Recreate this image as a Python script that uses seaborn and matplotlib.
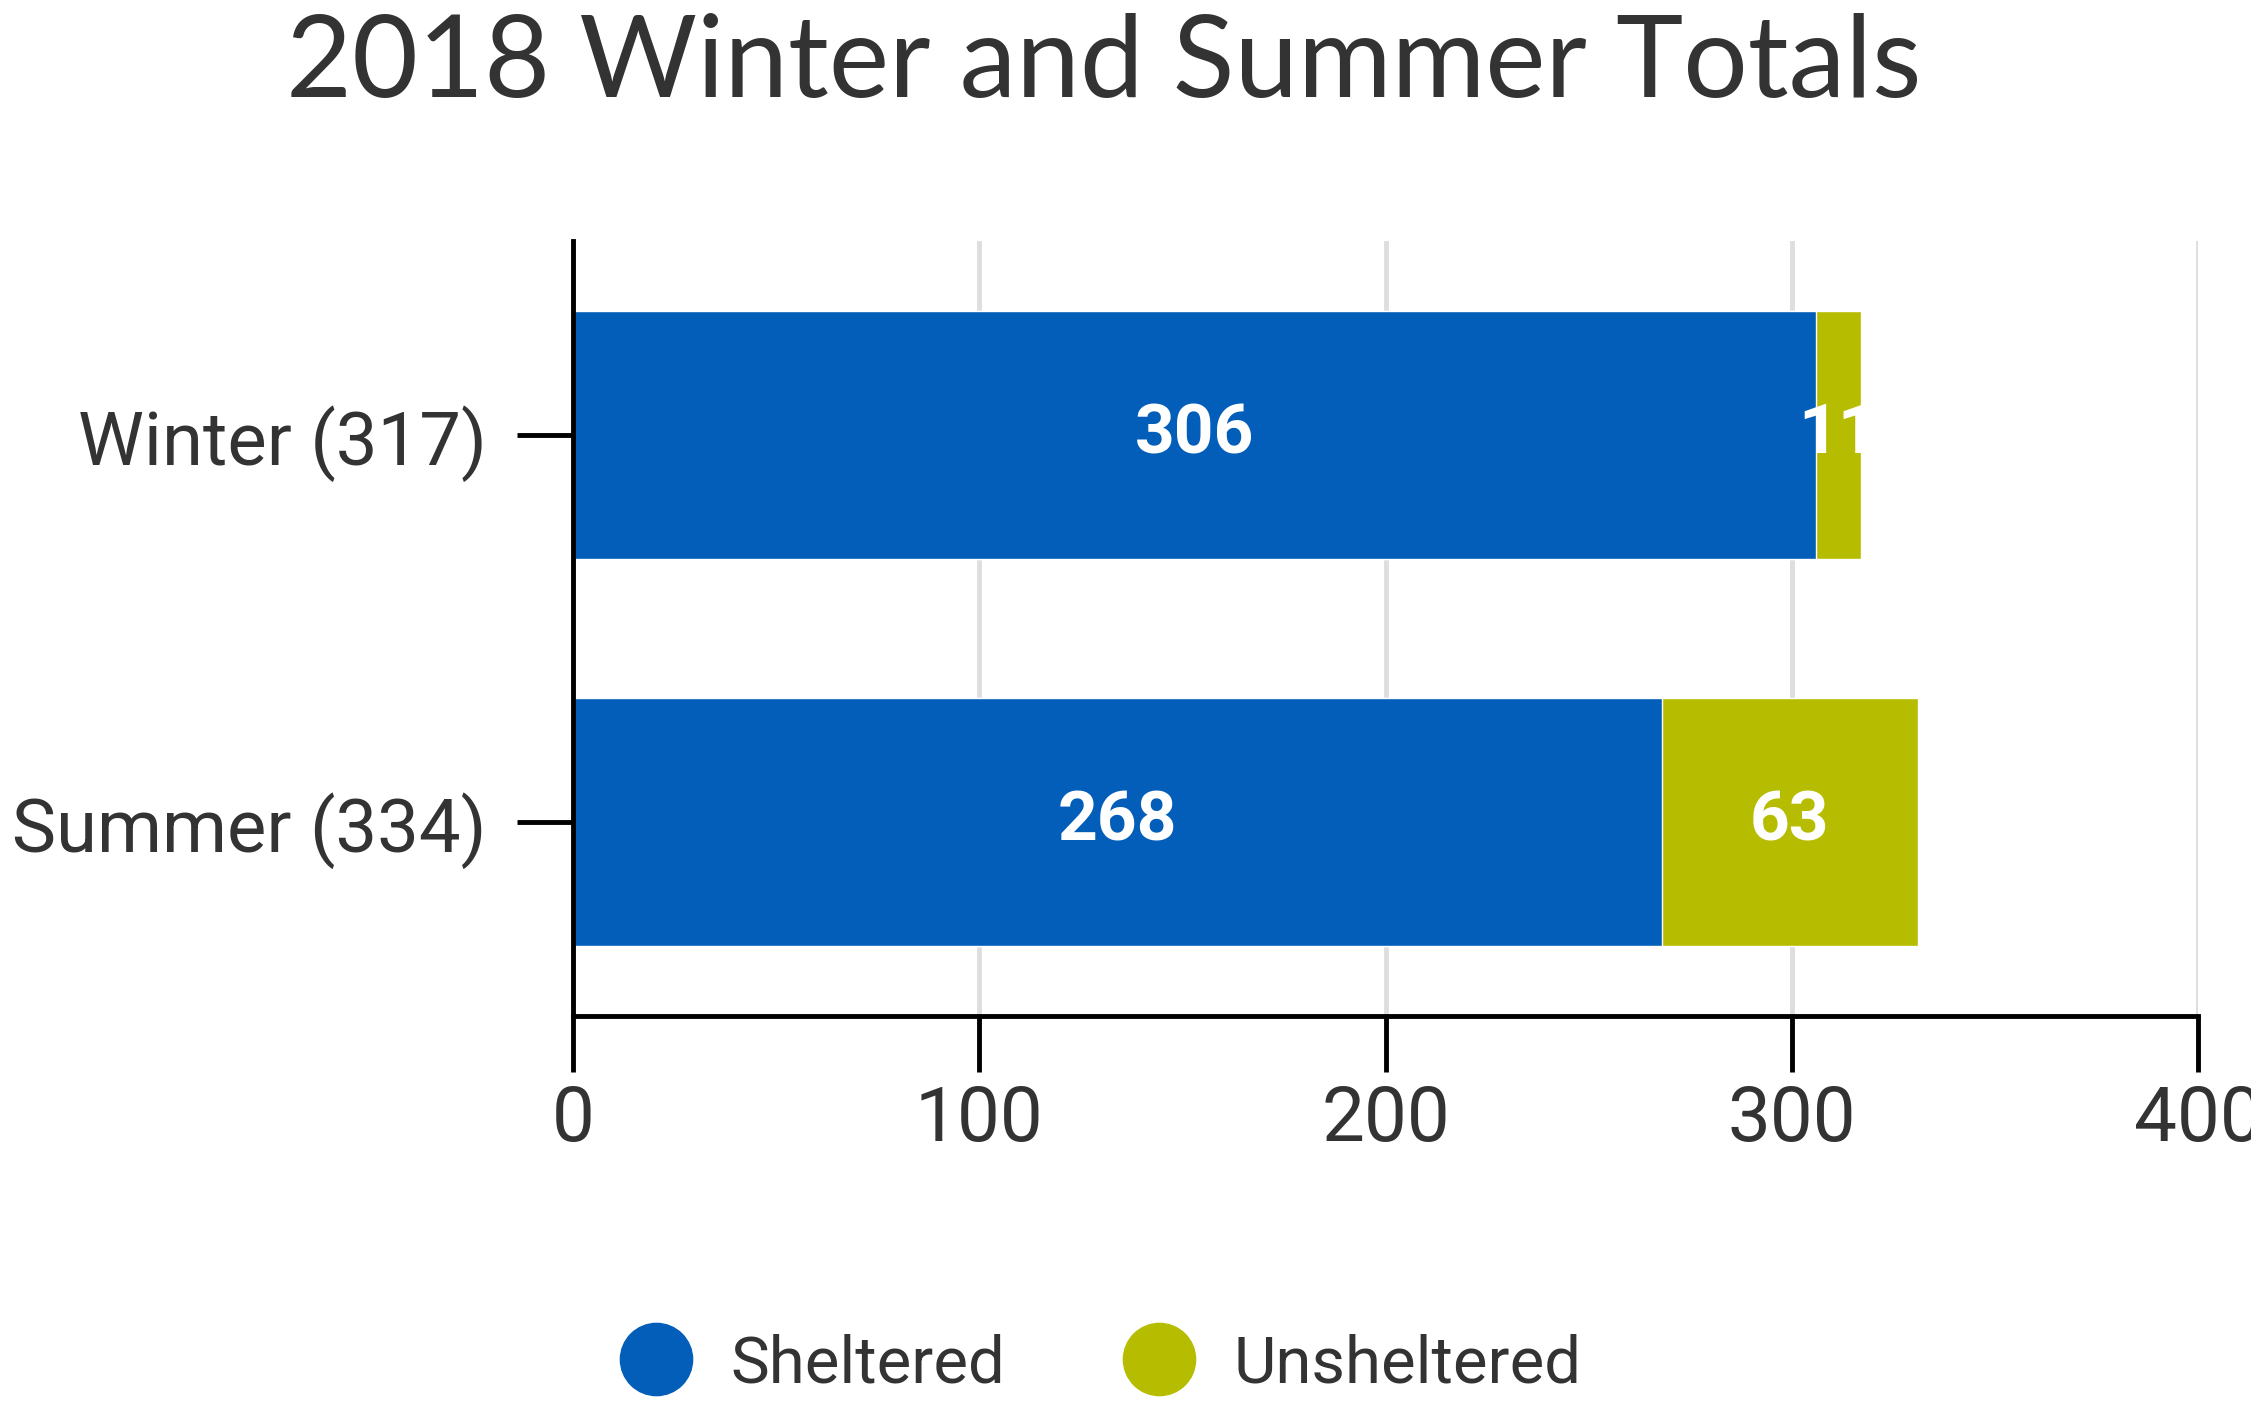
import matplotlib
matplotlib.use('Agg')
import matplotlib.pyplot as plt
import seaborn as sns
from matplotlib.lines import Line2D
from matplotlib.transforms import TransformedBbox

# dados
estacoes = ['Winter (317)', 'Summer (334)']
abrigados = [306, 268]
sem_abrigo = [11, 63]
legenda = ['Sheltered', 'Unsheltered']
xticks = [0, 100, 200, 300, 400]

azul = '#025EB8'
verde = '#B6BD00'
cinza = '#333333'

sns.set_style('white')
plt.rcParams['font.family'] = ['Roboto', 'DejaVu Sans']

fig = plt.figure(figsize=(22.51, 14.18), dpi=100)
ax = fig.add_axes([0.2546, 0.2835, 0.7219, 0.5465])

totais = [a + s for a, s in zip(abrigados, sem_abrigo)]

# barra total (verde) por baixo, abrigados (azul) por cima
sns.barplot(x=totais, y=estacoes, orient='h', color=verde, saturation=1,
            width=0.64, errorbar=None, ax=ax)
sns.barplot(x=abrigados, y=estacoes, orient='h', color=azul, saturation=1,
            width=0.64, errorbar=None, ax=ax)

barras_verdes = ax.containers[0]
barras_azuis = ax.containers[1]

ax.bar_label(barras_azuis, labels=[str(v) for v in abrigados], label_type='center',
             color='white', fontsize=50, fontweight='bold')

for i, (a, s) in enumerate(zip(abrigados, sem_abrigo)):
    t = ax.text(a + s / 2, i, str(s), ha='center', va='center', color='white',
                fontsize=50, fontweight='bold')
    patch = barras_verdes.patches[i]
    # o rótulo fica cortado no fim da barra, como no original
    t.set_clip_box(TransformedBbox(patch.get_bbox(), ax.transData))
    t.set_clip_on(True)

ax.set_xlim(0, 400)
ax.set_ylim(1.5, -0.5)
ax.set_xticks(xticks)
ax.set_xlabel('')
ax.set_ylabel('')

ax.set_axisbelow(True)
ax.xaxis.grid(True, color='#DEDEDE', linewidth=3.5)
ax.yaxis.grid(False)

sns.despine(ax=ax, top=True, right=True)
for lado in ['left', 'bottom']:
    ax.spines[lado].set_color('black')
    ax.spines[lado].set_linewidth(3.5)

ax.tick_params(axis='both', length=40, width=3.5, color='black', labelcolor=cinza)
ax.tick_params(axis='y', pad=22, labelsize=53.5, left=True)
ax.tick_params(axis='x', pad=9, labelsize=55, bottom=True)

fig.text(0.4905, 0.954, '2018 Winter and Summer Totals', ha='center', va='center',
         fontsize=82, color=cinza, family=['Lato', 'DejaVu Sans'])

handles = [Line2D([0], [0], marker='o', linestyle='', markersize=52,
                  markerfacecolor=c, markeredgecolor=c) for c in [azul, verde]]
fig.legend(handles, legenda, loc='center', bbox_to_anchor=(0.489, 0.038), ncol=2,
           frameon=False, fontsize=47, handlelength=1.1, handletextpad=0.6,
           columnspacing=1.8, labelcolor=cinza)

plt.savefig('out.png', dpi=100)
plt.close()
